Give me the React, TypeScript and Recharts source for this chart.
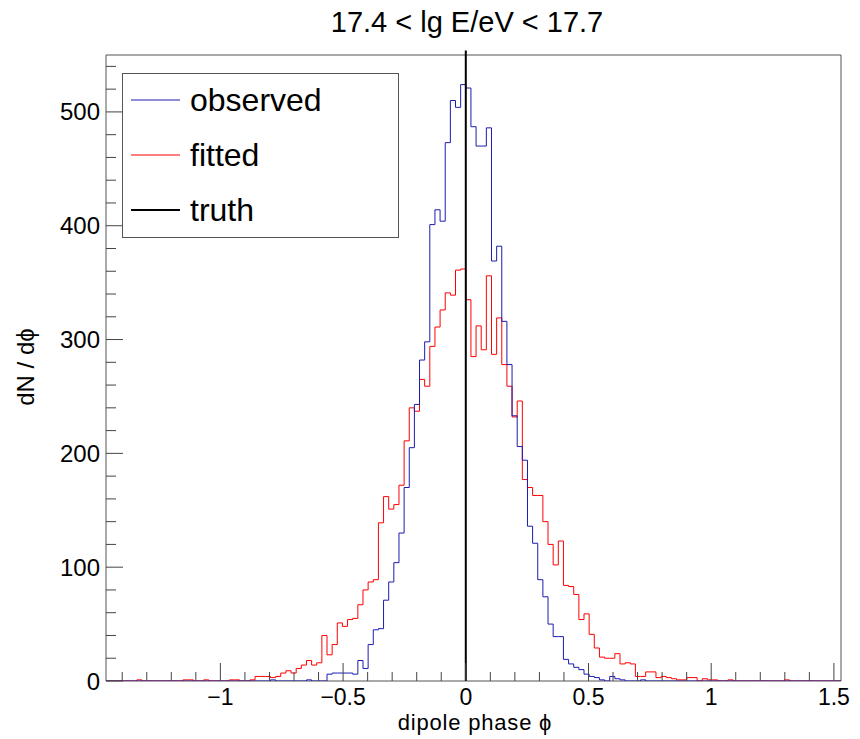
import React from 'react';
import {
  ComposedChart,
  Line,
  XAxis,
  YAxis,
  ReferenceLine,
  ReferenceArea,
  Legend,
  Customized,
} from 'recharts';

const FONT = '"Liberation Sans", Arial, Helvetica, sans-serif';

// histogram binning: width pi/150, first bin starts 70 bins left of zero
const binWidth = Math.PI / 150;
const firstBin = -70;

// counts per bin, left to right
const observed = [
  0, 0, 0, 0, 0, 0, 0, 0, 0, 0,
  0, 0, 0, 0, 0, 0, 0, 0, 0, 0,
  0, 0, 0, 0, 0, 0, 0, 0, 0, 0,
  0, 0,
  1, 0, 0, 0, 0, 0, 0, 1, 0, 0,
  0, 6, 7, 7, 7, 7, 6, 18, 11, 32,
  45, 46, 71, 87, 104, 130, 170, 205, 243, 282,
  298, 401, 414, 404, 473, 510, 504, 524, 521, 487,
  470, 470, 486, 369, 382, 316, 278, 233, 206, 194,
  136, 121, 89, 74, 50, 39, 39, 19, 15, 12,
  10, 6, 4, 3, 1, 0, 4, 2, 1, 0,
  0, 0, 1, 0, 0, 0, 0, 0, 0, 0,
  0, 0, 0, 0, 0, 0, 0, 0, 0, 0,
  0, 0, 0, 0, 0, 0, 0, 0, 0, 0,
  0, 0, 0, 0, 0, 0, 0, 0, 0, 0, 0,
];

const fitted = [
  0, 0, 0, 0, 0, 0, 1, 0, 0, 0,
  0, 0, 0, 0, 0, 1, 1, 0, 0, 1,
  0, 0, 0, 0, 1, 1, 0, 0, 1, 4,
  4, 4, 3, 4, 7, 9, 7, 11, 14, 18,
  14, 16, 40, 23, 32, 51, 48, 54, 55, 67,
  80, 87, 89, 139, 162, 151, 155, 172, 211, 240,
  237, 265, 259, 294, 311, 326, 341, 339, 361, 362,
  335, 285, 312, 291, 356, 287, 319, 278, 259, 232,
  246, 177, 170, 163, 163, 140, 120, 102, 123, 84,
  83, 76, 54, 59, 41, 29, 21, 20, 20, 24,
  15, 16, 15, 4, 4, 8, 8, 3, 4, 3,
  2, 1, 1, 3, 3, 0, 2, 1, 1, 0,
  0, 1, 0, 0, 0, 0, 0, 0, 0, 0,
  0, 0, 1, 0, 0, 0, 0, 0, 0, 0,
  0, 0, 0,
];

const truthPhase = 0;

const xTicks = [
  -1.4, -1.3, -1.2, -1.1, -1, -0.9, -0.8, -0.7, -0.6, -0.5, -0.4, -0.3, -0.2, -0.1,
  0, 0.1, 0.2, 0.3, 0.4, 0.5, 0.6, 0.7, 0.8, 0.9, 1, 1.1, 1.2, 1.3, 1.4, 1.5,
];
const yTicks = [
  0, 20, 40, 60, 80, 100, 120, 140, 160, 180, 200, 220, 240, 260, 280, 300,
  320, 340, 360, 380, 400, 420, 440, 460, 480, 500, 520, 540,
];

const legendItems = [
  { name: 'observed', color: '#1c1cb0' },
  { name: 'fitted', color: '#ff0000' },
  { name: 'truth', color: '#000000' },
];

const xMin = firstBin * binWidth;
const xMax = (firstBin + observed.length) * binWidth;
const yMax = 550;

// step points at left bin edges, plus closing point at the right edge
const histData = observed.map((v, i) => ({
  x: (firstBin + i) * binWidth,
  observed: v,
  fitted: fitted[i],
}));
histData.push({
  x: xMax,
  observed: observed[observed.length - 1],
  fitted: fitted[fitted.length - 1],
});

const isMajorX = (v: number) => Math.abs(v * 2 - Math.round(v * 2)) < 1e-6;
const fmtX = (v: number) => (v < 0 ? '\u2212' + Math.abs(v) : String(v));

const XTick = (props: any) => {
  const { x, y, payload } = props;
  const major = isMajorX(payload.value);
  return (
    <g>
      <line x1={x} x2={x} y1={y} y2={y - (major ? 18 : 9)} stroke="#444" />
      {major && (
        <text x={x} y={y + 24} textAnchor="middle" fontSize={23} fontFamily={FONT} fill="#000">
          {fmtX(payload.value)}
        </text>
      )}
    </g>
  );
};

const YTick = (props: any) => {
  const { x, y, payload } = props;
  const major = payload.value % 100 === 0;
  return (
    <g>
      <line x1={x} x2={x + (major ? 17 : 10)} y1={y} y2={y} stroke="#444" />
      {major && (
        <text x={x - 6} y={y + 8.5} textAnchor="end" fontSize={24} fontFamily={FONT} fill="#000">
          {payload.value}
        </text>
      )}
    </g>
  );
};

const Titles = () => (
  <g fontFamily={FONT} fill="#000">
    <text x={467} y={32} textAnchor="middle" fontSize={29}>
      17.4 &lt; lg E/eV &lt; 17.7
    </text>
    <text x={475} y={730} textAnchor="middle" fontSize={22} letterSpacing={0.8}>
      dipole phase ϕ
    </text>
    <text x={34} y={367} textAnchor="middle" fontSize={24} transform="rotate(-90 34 367)">
      dN / dϕ
    </text>
  </g>
);

const LegendBox = () => (
  <svg width={277} height={165} style={{ display: 'block' }}>
    <rect x={0.5} y={0.5} width={276} height={164} fill="#fff" stroke="#555" />
    {legendItems.map((item, i) => (
      <g key={item.name}>
        <line x1={9} x2={58} y1={27 + i * 55} y2={27 + i * 55} stroke={item.color} strokeWidth={i === 2 ? 2 : 1} />
        <text x={68} y={38 + i * 55} fontSize={32} fontFamily={FONT} fill="#000">
          {item.name}
        </text>
      </g>
    ))}
  </svg>
);

export default function App() {
  return (
    <div
      style={{
        position: 'absolute',
        left: 0,
        top: 0,
        width: 860,
        height: 739,
        background: '#fff',
        fontFamily: FONT,
      }}
    >
      <ComposedChart
        width={860}
        height={739}
        data={histData}
        margin={{ top: 55, right: 19, bottom: 0, left: 0 }}
      >
        <XAxis
          dataKey="x"
          type="number"
          domain={[xMin, xMax]}
          ticks={xTicks}
          interval={0}
          tick={<XTick />}
          tickLine={false}
          tickSize={0}
          tickMargin={0}
          axisLine={false}
          height={58}
          allowDataOverflow
        />
        <YAxis
          type="number"
          domain={[0, yMax]}
          ticks={yTicks}
          interval={0}
          tick={<YTick />}
          tickLine={false}
          tickSize={0}
          tickMargin={0}
          axisLine={false}
          width={106}
          allowDataOverflow
        />
        <ReferenceArea
          x1={xMin}
          x2={xMax}
          y1={0}
          y2={yMax}
          fill="none"
          stroke="#555"
          strokeWidth={1}
          fillOpacity={0}
        />
        <Line
          type="stepAfter"
          dataKey="fitted"
          stroke="#ff0000"
          strokeWidth={1}
          dot={false}
          activeDot={false}
          isAnimationActive={false}
        />
        <Line
          type="stepAfter"
          dataKey="observed"
          stroke="#1c1cb0"
          strokeWidth={1}
          dot={false}
          activeDot={false}
          isAnimationActive={false}
        />
        <ReferenceLine
          segment={[
            { x: truthPhase, y: 0 },
            { x: truthPhase, y: 554 },
          ]}
          stroke="#000"
          strokeWidth={2}
          ifOverflow="visible"
        />
        <Legend
          layout="vertical"
          align="center"
          verticalAlign="middle"
          content={() => <LegendBox />}
          wrapperStyle={{ left: 122, top: 73, width: 277, height: 165 }}
        />
        <Customized component={Titles} />
      </ComposedChart>
    </div>
  );
}
